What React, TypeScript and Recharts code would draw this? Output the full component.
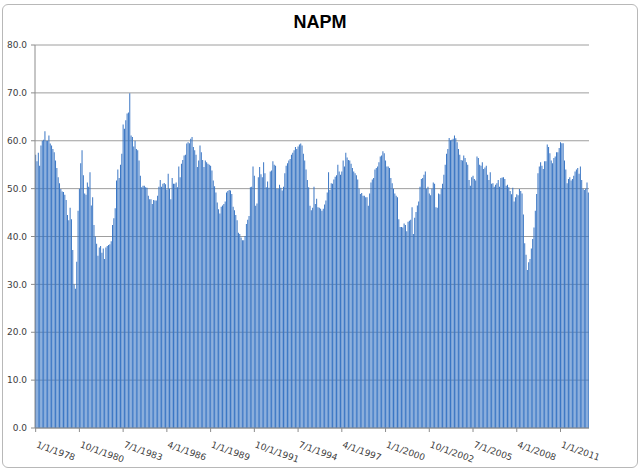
import React from 'react';
import { BarChart, Bar, XAxis, YAxis, CartesianGrid } from 'recharts';

// Monthly NAPM readings, Jan 1978 .. Oct 2012 (one row per year)
const START_YEAR = 1978;
const napmValues: number[] = [
  57.1, 55.7, 57.5, 54.8, 59.0, 60.0, 60.2, 62.0, 60.0, 60.0, 61.1, 59.4, // 1978
  59.0, 58.3, 57.6, 55.9, 54.3, 52.4, 51.1, 49.9, 49.4, 49.3, 48.7, 47.6, // 1979
  44.5, 43.4, 46.0, 43.6, 37.2, 30.0, 29.1, 34.7, 45.4, 50.0, 55.3, 58.0, // 1980
  52.8, 49.0, 48.7, 51.3, 50.4, 53.4, 46.5, 48.2, 42.4, 40.0, 38.5, 36.0, // 1981
  37.7, 38.0, 36.6, 37.5, 35.3, 37.7, 38.0, 38.2, 38.4, 39.0, 42.4, 43.8, // 1982
  45.9, 51.7, 54.0, 52.2, 55.0, 57.3, 63.4, 62.5, 64.3, 65.7, 65.9, 69.9, // 1983
  61.1, 60.8, 58.8, 60.0, 58.3, 58.0, 55.9, 52.7, 50.3, 50.6, 50.6, 50.3, // 1984
  50.2, 48.5, 47.8, 47.8, 46.8, 47.6, 47.5, 47.5, 48.5, 50.4, 51.8, 50.4, // 1985
  51.0, 51.2, 50.9, 49.8, 53.1, 50.0, 47.8, 52.2, 51.0, 51.0, 51.3, 50.3, // 1986
  54.6, 52.4, 55.2, 56.0, 56.9, 57.1, 59.4, 59.7, 59.5, 60.4, 60.8, 58.7, // 1987
  58.0, 57.1, 54.5, 55.9, 59.0, 57.6, 56.0, 54.5, 55.9, 55.5, 55.2, 55.0, // 1988
  54.8, 53.8, 51.7, 50.5, 49.2, 47.1, 45.7, 44.8, 46.2, 46.5, 46.8, 47.3, // 1989
  49.2, 49.5, 49.7, 49.6, 48.9, 46.2, 45.5, 44.5, 43.4, 40.8, 40.5, 39.8, // 1990
  39.2, 39.2, 40.1, 42.6, 43.5, 44.3, 50.3, 50.4, 54.6, 52.7, 46.4, 46.9, // 1991
  52.4, 54.5, 53.0, 52.4, 55.5, 53.2, 50.3, 51.5, 50.2, 53.6, 53.8, 55.7, // 1992
  55.0, 54.8, 50.0, 50.0, 50.8, 50.2, 49.6, 50.4, 53.2, 54.8, 55.3, 55.9, // 1993
  56.2, 57.1, 57.5, 58.0, 58.7, 58.3, 58.8, 59.2, 59.4, 59.0, 57.3, 55.9, // 1994
  54.0, 51.8, 50.3, 46.4, 45.5, 46.0, 50.4, 46.8, 47.9, 46.1, 46.0, 45.8, // 1995
  45.4, 45.8, 46.7, 47.5, 49.2, 53.4, 49.7, 51.1, 51.0, 51.9, 52.5, 52.8, // 1996
  55.0, 53.6, 52.9, 53.6, 55.9, 54.6, 57.5, 56.5, 56.0, 55.9, 55.2, 54.3, // 1997
  53.6, 53.2, 52.8, 51.9, 50.0, 48.9, 49.1, 48.5, 48.5, 48.2, 48.2, 46.4, // 1998
  49.0, 51.3, 51.9, 52.2, 54.0, 54.3, 54.6, 55.5, 56.7, 56.9, 57.8, 57.4, // 1999
  55.9, 54.6, 54.6, 54.3, 52.2, 51.1, 50.0, 49.0, 48.5, 48.2, 43.6, 42.0, // 2000
  42.0, 41.9, 42.7, 42.4, 41.1, 43.1, 43.3, 43.5, 46.1, 40.5, 43.9, 45.1, // 2001
  46.5, 47.3, 50.4, 52.0, 52.2, 52.9, 53.6, 50.0, 50.4, 49.0, 48.6, 50.0, // 2002
  51.3, 51.0, 46.1, 46.0, 49.0, 48.8, 50.0, 51.0, 52.9, 55.0, 57.3, 58.3, // 2003
  60.6, 60.1, 60.2, 60.4, 61.1, 60.5, 59.7, 58.3, 57.1, 56.0, 55.9, 56.9, // 2004
  56.4, 55.5, 55.0, 51.8, 50.6, 52.4, 52.7, 52.0, 51.7, 56.7, 56.4, 55.0, // 2005
  54.8, 55.5, 54.1, 54.4, 54.8, 52.9, 51.8, 53.4, 51.0, 51.1, 50.4, 50.8, // 2006
  51.1, 51.8, 50.4, 52.2, 52.3, 52.4, 52.0, 50.6, 50.8, 50.3, 49.5, 48.8, // 2007
  50.2, 47.3, 48.2, 48.8, 48.6, 49.9, 49.5, 49.0, 44.6, 38.6, 36.2, 33.0, // 2008
  34.6, 35.3, 37.5, 39.5, 41.9, 45.4, 48.9, 53.2, 54.6, 55.5, 54.8, 54.1, // 2009
  55.7, 55.7, 59.2, 58.7, 57.4, 55.9, 55.3, 56.4, 56.7, 57.6, 57.6, 58.5, // 2010
  59.7, 59.5, 59.5, 55.9, 54.0, 51.1, 52.0, 52.4, 51.7, 52.0, 52.7, 53.6, // 2011
  54.0, 54.3, 53.1, 54.6, 51.8, 50.0, 49.7, 50.0, 51.3, 49.2,             // 2012
];

const yTicks = [0, 10, 20, 30, 40, 50, 60, 70, 80];

// category labels like Excel writes them: m/1/yyyy
const monthLabels = napmValues.map(
  (_, i) => `${(i % 12) + 1}/1/${START_YEAR + Math.floor(i / 12)}`
);

const chartData = napmValues.map((v, i) => ({ month: monthLabels[i], napm: v }));

const FONT = '"DejaVu Sans", Verdana, sans-serif';

const DateTick = (props: any) => {
  const { x, y, payload } = props;
  const tx = x;
  const ty = y + 13;
  return (
    <text
      x={tx}
      y={ty}
      transform={`rotate(20 ${tx} ${ty})`}
      textAnchor="start"
      fontSize={9}
      fontFamily={FONT}
      fill="#404040"
    >
      {payload.value}
    </text>
  );
};

export default function App() {
  return (
    <div
      style={{
        position: 'absolute',
        left: 0,
        top: 0,
        width: 640,
        height: 471,
        background: '#ffffff',
      }}
    >
      {/* chart area frame */}
      <div
        style={{
          position: 'absolute',
          left: 2,
          top: 4,
          width: 634,
          height: 462,
          border: '1px solid #b8b8b8',
          borderRadius: 6,
        }}
      />
      <div
        style={{
          position: 'absolute',
          left: 0,
          top: 12,
          width: 640,
          textAlign: 'center',
          fontFamily: '"Liberation Sans", Arial, sans-serif',
          fontWeight: 'bold',
          fontSize: 18,
          color: '#000000',
        }}
      >
        NAPM
      </div>
      <div style={{ position: 'absolute', left: 0, top: 0 }}>
        <BarChart
          width={640}
          height={471}
          data={chartData}
          margin={{ top: 45, right: 51, bottom: 0, left: 0 }}
          barCategoryGap="12%"
        >
          <CartesianGrid vertical={false} stroke="#9e9e9e" />
          <XAxis
            dataKey="month"
            interval={32}
            height={43}
            tick={<DateTick />}
            tickSize={4}
            tickMargin={2}
            stroke="#8c8c8c"
            axisLine={{ stroke: '#8c8c8c' }}
            tickLine={{ stroke: '#8c8c8c' }}
          />
          <YAxis
            domain={[0, 80]}
            ticks={yTicks}
            width={35}
            tickSize={4}
            tickMargin={4}
            tickFormatter={(v: number) => v.toFixed(1)}
            tick={{ fontSize: 9, fontFamily: FONT, fill: '#404040' }}
            axisLine={{ stroke: '#8c8c8c' }}
            tickLine={{ stroke: '#8c8c8c' }}
          />
          <Bar dataKey="napm" fill="#3a76c4" isAnimationActive={false} />
        </BarChart>
      </div>
    </div>
  );
}
